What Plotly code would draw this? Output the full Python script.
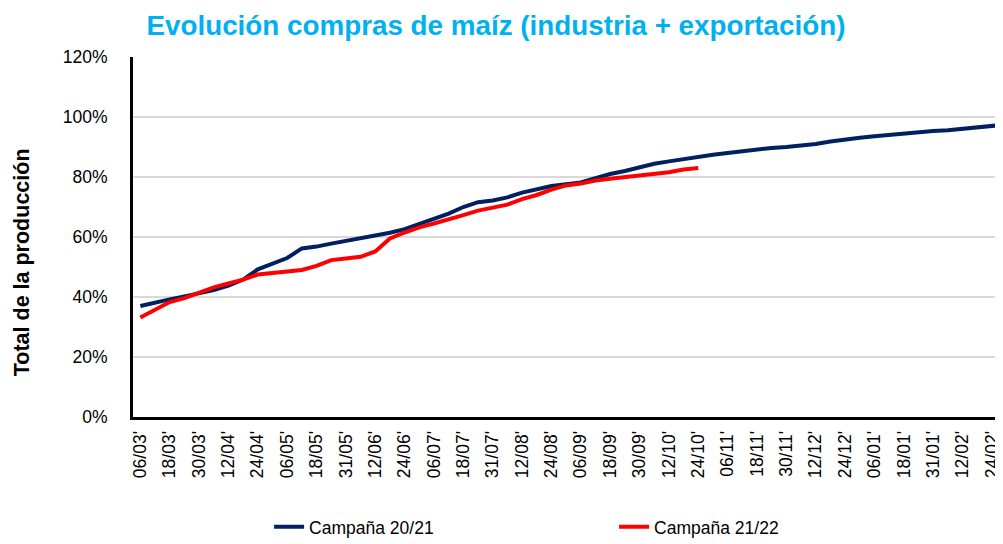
import plotly.graph_objects as go

# fechas cada 6 días; la etiqueta se muestra cada 2 categorías
fechas = [
    "06/03", "12/03", "18/03", "24/03", "30/03", "06/04", "12/04", "18/04",
    "24/04", "30/04", "06/05", "12/05", "18/05", "24/05", "31/05", "06/06",
    "12/06", "18/06", "24/06", "30/06", "06/07", "12/07", "18/07", "24/07",
    "31/07", "06/08", "12/08", "18/08", "24/08", "31/08", "06/09", "12/09",
    "18/09", "24/09", "30/09", "06/10", "12/10", "18/10", "24/10", "31/10",
    "06/11", "12/11", "18/11", "24/11", "30/11", "06/12", "12/12", "18/12",
    "24/12", "31/12", "06/01", "12/01", "18/01", "24/01", "31/01", "06/02",
    "12/02", "18/02", "24/02", "02/03",
]

campana_20_21 = [
    37.0, 38.2, 39.2, 40.2, 41.3, 42.3, 43.8, 45.8, 49.2, 51.0,
    53.0, 56.2, 56.8, 57.8, 58.7, 59.4, 60.4, 61.4, 62.6, 64.3,
    65.8, 67.8, 70.0, 71.6, 72.2, 73.2, 74.8, 76.0, 77.0, 77.6,
    78.2, 79.6, 81.0, 82.0, 83.2, 84.4, 85.2, 86.0, 86.8, 87.4,
    88.0, 88.6, 89.2, 89.7, 90.0, 90.4, 91.0, 91.8, 92.6, 93.1,
    93.6, 94.1, 94.6, 95.0, 95.3, 95.6, 96.1, 96.5, 97.0, 97.5,
]

campana_21_22 = [
    33.2, 35.8, 38.3, 39.6, 41.5, 43.2, 44.5, 45.8, 47.5, 47.9,
    48.3, 49.0, 50.4, 52.3, 52.8, 53.4, 55.2, 59.5, 61.5, 63.2,
    64.5, 65.8, 67.3, 68.8, 69.8, 70.8, 72.6, 74.0, 75.8, 77.2,
    77.8, 78.8, 79.4, 79.9, 80.4, 80.9, 81.6, 82.5, 83.0,
]

idx = list(range(len(fechas)))
tick_idx = idx[0:59:2]
tick_txt = [fechas[i] + "'" for i in tick_idx]

fig = go.Figure()

fig.add_trace(
    go.Scatter(
        x=idx,
        y=[v / 100 for v in campana_20_21],
        mode="lines",
        name="Campaña 20/21",
        line=dict(color="#002060", width=4),
    )
)

fig.add_trace(
    go.Scatter(
        x=idx[: len(campana_21_22)],
        y=[v / 100 for v in campana_21_22],
        mode="lines",
        name="Campaña 21/22",
        line=dict(color="#FF0000", width=4),
    )
)

fig.update_layout(
    width=1003,
    height=544,
    margin=dict(l=125, r=0, t=49, b=135),
    paper_bgcolor="white",
    plot_bgcolor="white",
    font=dict(family="Liberation Sans, Arial, sans-serif", color="black"),
    title=dict(
        text="<b>Evolución compras de maíz (industria + exportación)</b>",
        x=0.4865,
        xanchor="center",
        y=0.969,
        yanchor="middle",
        font=dict(size=27.8, color="#00B0F0"),
        automargin=False,
    ),
    xaxis=dict(
        range=[-0.5, 59.3],
        tickvals=tick_idx,
        ticktext=tick_txt,
        tickangle=-90,
        tickfont=dict(size=17.5),
        ticklabelstandoff=4,
        showgrid=False,
        showline=True,
        linecolor="black",
        linewidth=3,
        ticks="",
        zeroline=False,
        automargin=False,
    ),
    yaxis=dict(
        range=[0, 1.2],
        tickvals=[0, 0.2, 0.4, 0.6, 0.8, 1.0, 1.2],
        tickformat=".0%",
        tickfont=dict(size=17.5),
        ticklabelstandoff=19,
        showgrid=True,
        gridcolor="#D9D9D9",
        gridwidth=2,
        showline=True,
        linecolor="black",
        linewidth=3,
        zeroline=False,
        ticks="",
        automargin=False,
    ),
    annotations=[
        dict(
            text="<b>Total de la producción</b>",
            xref="paper",
            yref="paper",
            x=-0.1264,
            y=0.43,
            xanchor="center",
            yanchor="middle",
            textangle=-90,
            showarrow=False,
            font=dict(size=21.5),
        )
    ],
    legend=dict(
        orientation="h",
        x=0.155,
        xanchor="left",
        y=-0.255,
        yanchor="top",
        font=dict(size=17.5),
        entrywidth=300,
        entrywidthmode="pixels",
    ),
)

fig.write_html("out.html")
